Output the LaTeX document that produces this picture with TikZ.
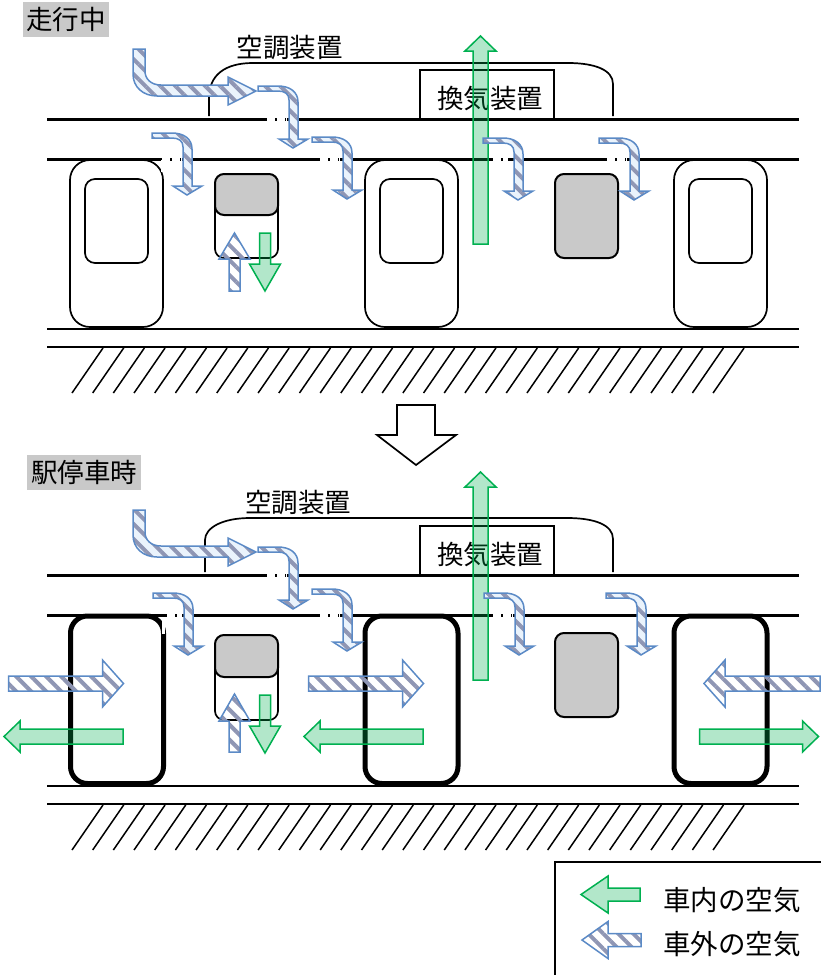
\documentclass[tikz,border=0pt]{standalone}
\usepackage{fontspec}
\setmainfont{Noto Sans CJK JP}
\usetikzlibrary{patterns.meta, positioning}

\definecolor{airgreen}{HTML}{00B050}
\definecolor{airblue}{HTML}{5B8AC6}
\definecolor{airstripe}{HTML}{8F96B4}
\definecolor{airpale}{HTML}{EAF3FC}
\definecolor{panelgray}{HTML}{C9C9C9}

\tikzset{
  inair/.style={draw=airgreen, line width=1.5pt, fill=airgreen, fill opacity=.3},
  outair/.style={draw=airblue, line width=1.5pt, preaction={fill=airpale},
    pattern={Lines[angle=-45, distance=10.6pt, line width=4pt]}, pattern color=airstripe},
  rail/.style={line width=3pt},
  floorline/.style={line width=2pt},
  hatchline/.style={line width=1.5pt},
  thinbox/.style={line width=1.7pt},
  gapline/.style={white, line width=3.5pt, dash pattern=on 8pt off 1.5pt},
  door/.style={line width=1.7pt, rounded corners=20pt},
  opendoor/.style={line width=5pt, rounded corners=17pt},
  doorglass/.style={line width=1.7pt, rounded corners=10pt},
  seatbox/.style={line width=1.7pt, rounded corners=9pt},
  seatgray/.style={line width=2pt, rounded corners=9pt, fill=panelgray},
  caption/.style={font=\fontsize{26.5}{26.5}\selectfont, inner sep=0pt},
  tagbox/.style={caption, fill=panelgray, minimum height=35pt},
  legendtext/.style={caption, font=\fontsize{27.5}{27.5}\selectfont},
  pics/straight air/.style n args={4}{code={
    \path[pic actions] (0,-#2) -- (#1-#4,-#2) -- (#1-#4,-#3) -- (#1,0)
      -- (#1-#4,#3) -- (#1-#4,#2) -- (0,#2) -- cycle;
  }},
  pics/small bent/.style={code={
    \path[outair] (0,0) -- (20,0) .. controls (32,0) and (40,6) .. (40,16) -- (40,53)
      -- (50,53) -- (35,62) -- (21,53) -- (31,53) -- (31,14)
      .. controls (31,8) and (27,5) .. (20,5) -- (0,5) -- cycle;
  }},
  pics/large bent/.style={code={
    \path[outair] (0,0) -- (0,25) .. controls (0,38) and (10,47) .. (24,47) -- (95,47)
      -- (95,56) -- (123,42) -- (95,28) -- (95,36) -- (28,36)
      .. controls (18,36) and (12,30) .. (12,22) -- (12,0) -- cycle;
  }}
}

\begin{document}
\begin{tikzpicture}[x=1pt, y=-1pt]
  \useasboundingbox (0,0) rectangle (821,975);

  % running
  \node[tagbox, minimum width=86pt] (runtag) at (66,19.5) {走行中};
  \draw[rail] (47,119.5) -- (799,119.5);
  \draw[rail] (47,159) -- (799,159);
  \draw[floorline] (47,329) -- (799,329);
  \draw[floorline] (47,347) -- (799,347);
  \foreach \i in {0,...,31}
    \draw[hatchline] (72+\i*20.68,393) -- (103+\i*20.68,348);

  \foreach \dx in {70,365,674} {
    \draw[door] (\dx,160) rectangle (\dx+93,327);
    \draw[doorglass] (\dx+15,179) rectangle (\dx+78,263);
  }
  \draw[seatbox] (215,190) rectangle (278,258);
  \draw[seatgray] (215,174) rectangle (278,215);
  \draw[seatgray] (555,174) rectangle (618,258);

  \draw[thinbox] (209,116) -- (209,98) .. controls (209,75) and (225,63) .. (253,63)
    -- (568,63) .. controls (595,63) and (613,70) .. (613,84) -- (613,116);
  \node[caption] (acrun) at (289.5,48) {空調装置};
  \draw[thinbox] (420,119) -- (420,70) -- (554,70) -- (554,119);
  \node[caption] (ventrun) at (490,99) {換気装置};

  \draw[gapline] (267,119.5) -- (287,119.5);
  \draw[gapline] (162,159) -- (182,159);
  \draw[gapline] (320,159) -- (340,159);
  \draw[gapline] (493,159) -- (508,159);
  \draw[gapline] (607,159) -- (627,159);
  \draw[white, line width=2.5pt] (162,160) -- (162,172);

  \pic[rotate=90, inair] at (480.5,244) {straight air={208}{7.5}{15.5}{15}};
  \pic at (133,49) {large bent};
  \pic at (258,86) {small bent};
  \pic at (152,133) {small bent};
  \pic at (312,137) {small bent};
  \pic at (483,138) {small bent};
  \pic at (599,138) {small bent};
  \pic[rotate=90, outair] at (234.5,291) {straight air={58}{5.5}{15.5}{26}};
  \pic[rotate=270, inair] at (265,233) {straight air={58}{5.5}{15.5}{27}};

  % big arrow between
  \draw[thinbox, fill=white] (397,405) -- (435,405) -- (435,435) -- (456,435) -- (416,465)
    -- (377,435) -- (397,435) -- cycle;

  % stopped at station
  \node[tagbox, minimum width=114pt] (stoptag) at (84,472.5) {駅停車時};
  \draw[rail] (47,575) -- (799,575);
  \draw[rail] (47,615) -- (799,615);
  \draw[floorline] (47,786) -- (799,786);
  \draw[floorline] (47,804) -- (799,804);
  \foreach \i in {0,...,31}
    \draw[hatchline] (72+\i*20.68,850) -- (103+\i*20.68,805);

  \foreach \dx in {70.5,365,674}
    \draw[opendoor] (\dx,616) rectangle (\dx+93,783.5);
  \draw[seatbox] (215,650) rectangle (278,720);
  \draw[seatgray] (215,635) rectangle (278,677);
  \draw[seatgray] (555,633) rectangle (618,717);

  \draw[thinbox] (205,572) -- (205,540) .. controls (205,528) and (222,518) .. (250,518)
    -- (567,518) .. controls (595,518) and (613,525) .. (613,539) -- (613,572);
  \node[caption] (acstop) at (298,503) {空調装置};
  \draw[thinbox] (420,575) -- (420,526) -- (554,526) -- (554,575);
  \node[caption] (ventstop) at (490,555) {換気装置};

  \draw[gapline] (267,575) -- (287,575);
  \draw[gapline] (167,615) -- (182,615);
  \draw[gapline] (320,615) -- (340,615);
  \draw[gapline] (493,615) -- (513,615);
  \draw[white, line width=3pt] (163.5,618) -- (163.5,634);

  \pic[rotate=90, inair] at (480.5,680) {straight air={208}{7.5}{15.5}{15}};
  \pic at (133,510) {large bent};
  \pic at (258,547) {small bent};
  \pic at (153,593) {small bent};
  \pic at (312,589) {small bent};
  \pic at (484,593) {small bent};
  \pic at (606,593) {small bent};
  \pic[rotate=90, outair] at (234.5,752) {straight air={58}{5.5}{15.5}{27}};
  \pic[rotate=270, inair] at (265,695) {straight air={58}{5.5}{15.5}{27}};

  \pic[outair] at (8.5,683.5) {straight air={115}{7.5}{23.5}{21}};
  \pic[rotate=180, inair] at (123,736.5) {straight air={119}{7.5}{15.5}{16}};
  \pic[outair] at (308.5,683.5) {straight air={115}{7.5}{23.5}{21}};
  \pic[rotate=180, inair] at (423,736.5) {straight air={119}{7.5}{15.5}{16}};
  \pic[rotate=180, outair] at (820,683.5) {straight air={116}{7.5}{23.5}{21}};
  \pic[inair] at (699.5,736.5) {straight air={119}{7.5}{15.5}{16}};

  % legend
  \draw[line width=2pt] (821,862) -- (555,862) -- (555,975);
  \pic[rotate=180, inair] at (640,894.5) {straight air={59}{6.5}{18.5}{27}};
  \pic[rotate=180, outair] at (641,940) {straight air={59}{6.5}{18.5}{26}};
  \node[legendtext] (legendin) at (732,900) {車内の空気};
  \node[legendtext] (legendout) at (732,944) {車外の空気};
\end{tikzpicture}
\end{document}
